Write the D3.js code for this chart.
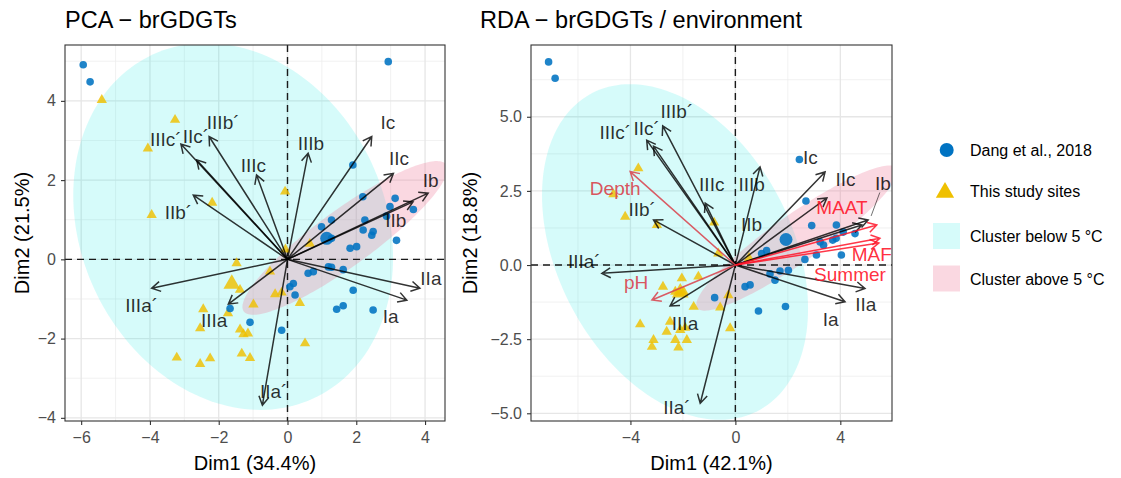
<!DOCTYPE html>
<html>
<head>
<meta charset="utf-8">
<script src="https://cdn.jsdelivr.net/npm/d3@7"></script>
<style>
  body { margin: 0; background: #fff; }
  svg { display: block; font-family: "Liberation Sans", Arial, Helvetica, sans-serif; }
</style>
</head>
<body>
<svg id="chart" width="1121" height="478"></svg>
<script>
// ---------------- PCA (left panel) ----------------
const pcaDang = [
  [-5.94, 4.91], [-5.74, 4.48], [2.93, 4.99], [1.90, 2.38], [2.19, 1.58], [3.13, 1.54],
  [2.98, 1.33], [3.66, 1.26], [2.88, 1.09], [2.25, 0.99], [1.28, 0.99], [0.99, 0.82],
  [1.28, 0.53], [2.20, 0.74], [2.49, 0.70], [2.45, 0.61], [3.17, 0.48], [2.01, 0.32],
  [1.82, 0.28], [1.19, -0.19], [1.28, -0.20], [1.62, -0.26], [0.60, -0.35], [0.75, -0.31],
  [0.17, -0.61], [0.07, -0.69], [0.22, -0.90], [1.91, -0.78], [1.43, -1.26], [1.62, -1.17],
  [2.49, -1.28], [-1.67, -1.24], [-1.09, -1.59], [-0.17, -1.79]
];
const pcaStudy = [
  [-5.40, 4.02], [-3.27, 3.52], [-4.06, 2.80], [-0.07, 1.71], [-2.19, 1.43], [-3.95, 1.12],
  [0.65, 0.39], [-0.06, 0.25], [-1.48, -0.10], [-0.51, -0.31], [-1.38, -0.77], [-0.36, -0.88],
  [-0.17, -0.84], [0.36, -1.10], [-0.99, -1.14], [-2.45, -1.26], [-1.73, -1.36], [-2.54, -1.74],
  [-1.38, -1.77], [-1.28, -1.89], [-1.15, -1.87], [-3.22, -2.48], [-2.54, -2.64], [-2.25, -2.50],
  [-1.33, -2.38], [-1.09, -2.49], [0.51, -2.12]
];
const pcaGroupMeans = { dang: [1.14, 0.53], study: [-1.62, -0.62] };
// loading vectors: tip (x, y) and label position (lx, ly)
const pcaLoadings = [
  { name: "Ic",    x: 2.45,  y: 3.10,  lx: 2.92,  ly: 3.47 },
  { name: "IIc",   x: 3.08,  y: 2.17,  lx: 3.24,  ly: 2.55 },
  { name: "Ib",    x: 4.09,  y: 1.67,  lx: 4.16,  ly: 2.00 },
  { name: "IIb",   x: 3.65,  y: 1.45,  lx: 3.15,  ly: 1.00 },
  { name: "IIIb",  x: 0.60,  y: 2.68,  lx: 0.68,  ly: 2.93 },
  { name: "IIIc",  x: -0.90, y: 2.13,  lx: -0.99, ly: 2.37 },
  { name: "IIIb´", x: -2.28, y: 3.10,  lx: -1.87, ly: 3.45 },
  { name: "IIc´",  x: -2.64, y: 2.51,  lx: -2.66, ly: 3.11 },
  { name: "IIIc´", x: -3.10, y: 2.91,  lx: -3.54, ly: 3.04 },
  { name: "IIb´",  x: -2.74, y: 1.62,  lx: -3.17, ly: 1.18 },
  { name: "IIIa´", x: -3.95, y: -0.73, lx: -4.24, ly: -1.15 },
  { name: "IIIa",  x: -1.72, y: -1.13, lx: -2.13, ly: -1.54 },
  { name: "IIa´",  x: -0.73, y: -3.68, lx: -0.40, ly: -3.33 },
  { name: "IIa",   x: 3.85,  y: -0.73, lx: 4.17,  ly: -0.48 },
  { name: "Ia",    x: 3.47,  y: -1.03, lx: 3.00,  ly: -1.43 }
];
// cluster ellipses: centre, spread along each axis and correlation
const pcaEllipses = [
  { cluster: "below", cx: -1.58, cy: 0.83, sx: 4.65, sy: 4.63, rho: -0.17 },
  { cluster: "above", cx: 1.67,  cy: 0.54, sx: 2.98, sy: 1.94, rho: 0.896 }
];
const pcaXTicks = [-6, -4, -2, 0, 2, 4];
const pcaXMinor = [-5, -3, -1, 1, 3];
const pcaYTicks = [-4, -2, 0, 2, 4];
const pcaYMinor = [-3, -1, 1, 3, 5];

// ---------------- RDA (right panel) ----------------
const rdaDang = [
  [-7.12, 6.85], [-6.87, 6.30], [2.44, 3.56], [2.69, 2.16], [2.91, 1.33], [3.85, 1.35],
  [4.11, 1.11], [4.56, 1.06], [1.00, 0.39], [1.19, 0.49], [3.71, 0.84], [3.84, 0.90],
  [3.23, 0.78], [3.36, 0.67], [3.09, 0.34], [4.04, 0.34], [2.65, 0.19], [1.32, -0.30],
  [1.70, -0.20], [2.02, -0.18], [1.51, -0.51], [0.56, -0.67], [0.37, -0.73], [-0.79, -1.10],
  [0.88, -1.55], [1.91, -1.40]
];
const rdaStudy = [
  [-3.70, 3.26], [-4.65, 2.39], [-4.20, 1.63], [-2.99, 1.35], [-0.81, 1.43], [-0.65, 0.39],
  [0.52, 0.24], [-2.76, -0.73], [-2.04, -0.45], [-1.41, -0.39], [-2.29, -0.90], [-2.12, -0.95],
  [-1.97, -0.90], [-1.59, -1.41], [-3.63, -2.00], [-2.49, -1.91], [-2.62, -2.25], [-2.10, -2.19],
  [-1.91, -2.12], [-2.29, -2.53], [-1.85, -2.53], [-3.12, -2.53], [-3.18, -2.76], [-2.17, -2.78],
  [-0.27, -1.02], [-0.58, -1.43], [-0.20, -2.13]
];
const rdaGroupMeans = { dang: [1.93, 0.86], study: [-2.10, -0.93] };
const rdaLoadings = [
  { name: "IIIb´", x: -2.77, y: 4.69,  lx: -2.23, ly: 5.20 },
  { name: "IIc´",  x: -3.12, y: 4.01,  lx: -3.38, ly: 4.61 },
  { name: "IIIc´", x: -3.38, y: 4.21,  lx: -4.58, ly: 4.47 },
  { name: "IIb´",  x: -3.12, y: 1.52,  lx: -3.55, ly: 1.89 },
  { name: "IIIc",  x: -1.15, y: 2.09,  lx: -0.90, ly: 2.73 },
  { name: "IIIb",  x: 0.94,  y: 3.31,  lx: 0.62,  ly: 2.73 },
  { name: "IIb",   x: 4.82,  y: 1.35,  lx: 0.62,  ly: 1.38 },
  { name: "Ic",    x: 3.42,  y: 3.14,  lx: 2.86,  ly: 3.65 },
  { name: "IIc",   x: 3.49,  y: 2.26,  lx: 4.20,  ly: 2.90 },
  { name: "Ib",    x: 5.06,  y: 1.52,  lx: 5.62,  ly: 2.75 },
  { name: "IIa",   x: 4.94,  y: -0.79, lx: 4.97,  ly: -1.31 },
  { name: "Ia",    x: 4.18,  y: -1.24, lx: 3.63,  ly: -1.82 },
  { name: "IIIa´", x: -5.09, y: -0.28, lx: -5.76, ly: 0.13 },
  { name: "IIIa",  x: -2.49, y: -1.38, lx: -1.92, ly: -1.97 },
  { name: "IIa´",  x: -1.34, y: -4.66, lx: -2.23, ly: -4.78 }
];
const rdaEnvironment = [
  { name: "MAAT",   x: 5.39,  y: 1.35,  lx: 4.06,  ly: 1.94 },
  { name: "MAF",    x: 5.51,  y: 0.90,  lx: 5.20,  ly: 0.38 },
  { name: "Summer", x: 5.47,  y: 0.74,  lx: 4.37,  ly: -0.31 },
  { name: "Depth",  x: -4.01, y: 3.15,  lx: -4.58, ly: 2.60 },
  { name: "pH",     x: -3.18, y: -1.18, lx: -3.78, ly: -0.57 }
];
const rdaLeaderLines = ["Ib"];
const rdaEllipses = [
  { cluster: "below", cx: -2.30, cy: 0.44, sx: 5.07, sy: 5.66, rho: -0.338 },
  { cluster: "above", cx: 2.35,  cy: 0.91, sx: 3.84, sy: 2.45, rho: 0.918 }
];
const rdaXTicks = [-4, 0, 4];
const rdaXMinor = [-6, -2, 2];
const rdaYTicks = [-5, -2.5, 0, 2.5, 5];
const rdaYMinor = [-3.75, -1.25, 1.25, 3.75, 6.25];

// ---------------- legend ----------------
const legendGroups = ["Dang et al., 2018", "This study sites"];
const legendClusters = ["Cluster below 5 °C", "Cluster above 5 °C"];

// ---------------- styles ----------------
const BLUE = "#0073C2";
const GOLD = "#EFC000";
const clusterStyle = {
  below: { fill: "rgb(0,230,222)", opacity: 0.16 },
  above: { fill: "rgb(238,125,155)", opacity: 0.30 }
};
const envColour = { MAAT: "#FF1428", MAF: "#FF1428", Summer: "#FF1428", Depth: "#D9404A", pH: "#D9404A" };
const LABEL_SIZE = 19;

const svg = d3.select("#chart");
const defs = svg.append("defs");

function ellipsePath(e, x, y) {
  const k = Math.sqrt(1 - e.rho * e.rho);
  const pts = d3.range(0, 360, 2).map(a => {
    const t = a * Math.PI / 180;
    const dx = e.sx * Math.cos(t);
    const dy = e.sy * (e.rho * Math.cos(t) + k * Math.sin(t));
    return [x(e.cx + dx), y(e.cy + dy)];
  });
  return d3.line()(pts) + "Z";
}

function arrowPath(x0, y0, x1, y1) {
  const ang = Math.atan2(y1 - y0, x1 - x0);
  const L = 10, A = Math.PI / 6;
  const a1 = [x1 - L * Math.cos(ang - A), y1 - L * Math.sin(ang - A)];
  const a2 = [x1 - L * Math.cos(ang + A), y1 - L * Math.sin(ang + A)];
  return `M${x0},${y0}L${x1},${y1}M${a1[0]},${a1[1]}L${x1},${y1}L${a2[0]},${a2[1]}`;
}

const triangle = size => d3.symbol(d3.symbolTriangle, size)();

function drawPanel(p, idx) {
  const { l, r, t, b } = p.box;
  const x = d3.scaleLinear().domain(p.xDomain).range([l, r]);
  const y = d3.scaleLinear().domain(p.yDomain).range([b, t]);
  const g = svg.append("g");

  defs.append("clipPath").attr("id", "clip" + idx)
    .append("rect").attr("x", l).attr("y", t).attr("width", r - l).attr("height", b - t);
  const plot = g.append("g").attr("clip-path", `url(#clip${idx})`);

  // grid
  plot.selectAll(".vminor").data(p.xMinor).join("line")
    .attr("x1", d => x(d)).attr("x2", d => x(d)).attr("y1", t).attr("y2", b)
    .attr("stroke", "#EBEBEB").attr("stroke-width", 0.7);
  plot.selectAll(".hminor").data(p.yMinor).join("line")
    .attr("y1", d => y(d)).attr("y2", d => y(d)).attr("x1", l).attr("x2", r)
    .attr("stroke", "#EBEBEB").attr("stroke-width", 0.7);
  plot.selectAll(".vmajor").data(p.xTicks).join("line")
    .attr("x1", d => x(d)).attr("x2", d => x(d)).attr("y1", t).attr("y2", b)
    .attr("stroke", "#E6E6E6").attr("stroke-width", 1.3);
  plot.selectAll(".hmajor").data(p.yTicks).join("line")
    .attr("y1", d => y(d)).attr("y2", d => y(d)).attr("x1", l).attr("x2", r)
    .attr("stroke", "#E6E6E6").attr("stroke-width", 1.3);

  // cluster ellipses
  plot.selectAll(".ell").data(p.ellipses).join("path")
    .attr("d", e => ellipsePath(e, x, y))
    .attr("fill", e => clusterStyle[e.cluster].fill)
    .attr("fill-opacity", e => clusterStyle[e.cluster].opacity)
    .attr("stroke", "none");

  // reference lines at zero
  plot.append("line").attr("x1", l).attr("x2", r).attr("y1", y(0)).attr("y2", y(0))
    .attr("stroke", "#1a1a1a").attr("stroke-width", 1.4).attr("stroke-dasharray", "7,5");
  plot.append("line").attr("y1", t).attr("y2", b).attr("x1", x(0)).attr("x2", x(0))
    .attr("stroke", "#1a1a1a").attr("stroke-width", 1.4).attr("stroke-dasharray", "7,5");

  // samples
  plot.selectAll(".study").data(p.study).join("path")
    .attr("d", triangle(46))
    .attr("transform", d => `translate(${x(d[0])},${y(d[1])})`)
    .attr("fill", GOLD).attr("fill-opacity", 0.82);
  plot.append("path").attr("d", triangle(120))
    .attr("transform", `translate(${x(p.means.study[0])},${y(p.means.study[1])})`)
    .attr("fill", GOLD).attr("fill-opacity", 0.82);
  plot.selectAll(".dang").data(p.dang).join("circle")
    .attr("cx", d => x(d[0])).attr("cy", d => y(d[1])).attr("r", 3.8)
    .attr("fill", BLUE).attr("fill-opacity", 0.88);
  plot.append("circle")
    .attr("cx", x(p.means.dang[0])).attr("cy", y(p.means.dang[1])).attr("r", 6.5)
    .attr("fill", BLUE).attr("fill-opacity", 0.88);

  // loading arrows
  plot.selectAll(".load").data(p.loadings).join("path")
    .attr("d", d => arrowPath(x(0), y(0), x(d.x), y(d.y)))
    .attr("fill", "none").attr("stroke", "#000").attr("stroke-opacity", 0.8)
    .attr("stroke-width", 1.5).attr("stroke-linejoin", "miter");
  plot.selectAll(".env").data(p.env).join("path")
    .attr("d", d => arrowPath(x(0), y(0), x(d.x), y(d.y)))
    .attr("fill", "none").attr("stroke", d => envColour[d.name]).attr("stroke-opacity", 0.85)
    .attr("stroke-width", 1.5);

  // leader lines for displaced labels
  const leaders = p.loadings.filter(d => p.leaders.includes(d.name));
  plot.selectAll(".leader").data(leaders).join("line")
    .attr("x1", d => x(d.lx) - 3).attr("y1", d => y(d.ly) + 9)
    .attr("x2", d => x(d.x) + 3).attr("y2", d => y(d.y) - 4)
    .attr("stroke", "#000").attr("stroke-opacity", 0.7).attr("stroke-width", 0.8);

  // labels (kept outside the clip so names near the border stay whole)
  const labels = g.append("g");
  labels.selectAll(".loadLab").data(p.loadings).join("text")
    .attr("x", d => x(d.lx)).attr("y", d => y(d.ly) + 6.8)
    .attr("text-anchor", "middle").attr("font-size", LABEL_SIZE)
    .attr("fill", "#000").attr("fill-opacity", 0.82)
    .text(d => d.name);
  labels.selectAll(".envLab").data(p.env).join("text")
    .attr("x", d => x(d.lx)).attr("y", d => y(d.ly) + 6.8)
    .attr("text-anchor", "middle").attr("font-size", LABEL_SIZE)
    .attr("fill", d => envColour[d.name]).attr("fill-opacity", 0.9)
    .text(d => d.name);

  // border
  g.append("rect").attr("x", l).attr("y", t).attr("width", r - l).attr("height", b - t)
    .attr("fill", "none").attr("stroke", "#333333").attr("stroke-width", 1.1);

  // axes
  const xAxis = d3.axisBottom(x).tickValues(p.xTicks).tickSize(4).tickPadding(7)
    .tickFormat(d3.format(p.xFormat));
  const yAxis = d3.axisLeft(y).tickValues(p.yTicks).tickSize(4).tickPadding(5)
    .tickFormat(d3.format(p.yFormat));
  const ax = g.append("g").attr("transform", `translate(0,${b})`).call(xAxis);
  const ay = g.append("g").attr("transform", `translate(${l},0)`).call(yAxis);
  [ax, ay].forEach(a => {
    a.select(".domain").remove();
    a.selectAll(".tick line").attr("stroke", "#333333").attr("stroke-width", 1.1);
    a.selectAll(".tick text").attr("fill", "#4D4D4D").attr("font-size", 16)
      .attr("font-family", '"Liberation Sans", Arial, sans-serif');
  });

  // titles
  g.append("text").attr("x", p.titleX).attr("y", 28).attr("font-size", 23.5).attr("fill", "#000")
    .text(p.title);
  g.append("text").attr("x", (l + r) / 2).attr("y", 470).attr("text-anchor", "middle")
    .attr("font-size", 20).attr("fill", "#000").text(p.xTitle);
  g.append("text").attr("transform", `translate(${p.yTitleX},${(t + b) / 2}) rotate(-90)`)
    .attr("text-anchor", "middle").attr("font-size", 20).attr("fill", "#000").text(p.yTitle);
}

const panels = [
  {
    title: "PCA − brGDGTs", xTitle: "Dim1 (34.4%)", yTitle: "Dim2 (21.5%)",
    box: { l: 65, r: 445, t: 45, b: 421 }, titleX: 65, yTitleX: 29,
    xDomain: [-6.47, 4.58], yDomain: [-4.08, 5.41],
    xTicks: pcaXTicks, xMinor: pcaXMinor, yTicks: pcaYTicks, yMinor: pcaYMinor,
    xFormat: "d", yFormat: "d",
    dang: pcaDang, study: pcaStudy, means: pcaGroupMeans,
    loadings: pcaLoadings, env: [], leaders: [], ellipses: pcaEllipses
  },
  {
    title: "RDA − brGDGTs / environment", xTitle: "Dim1 (42.1%)", yTitle: "Dim2 (18.8%)",
    box: { l: 531, r: 892, t: 45, b: 421 }, titleX: 480, yTitleX: 477,
    xDomain: [-7.79, 5.97], yDomain: [-5.26, 7.42],
    xTicks: rdaXTicks, xMinor: rdaXMinor, yTicks: rdaYTicks, yMinor: rdaYMinor,
    xFormat: "d", yFormat: ".1f",
    dang: rdaDang, study: rdaStudy, means: rdaGroupMeans,
    loadings: rdaLoadings, env: rdaEnvironment, leaders: rdaLeaderLines, ellipses: rdaEllipses
  }
];
panels.forEach(drawPanel);

// legend
const lg = svg.append("g");
const legRows = [150, 191.5, 236.5, 279];
lg.append("circle").attr("cx", 946.7).attr("cy", legRows[0]).attr("r", 7).attr("fill", BLUE);
lg.append("path").attr("d", triangle(145)).attr("transform", `translate(945,${legRows[1] + 1})`)
  .attr("fill", GOLD);
legendClusters.forEach((c, i) => {
  const key = i === 0 ? "below" : "above";
  lg.append("rect").attr("x", 933).attr("y", legRows[2 + i] - 13.5).attr("width", 27).attr("height", 26)
    .attr("fill", clusterStyle[key].fill).attr("fill-opacity", clusterStyle[key].opacity);
});
[...legendGroups, ...legendClusters].forEach((txt, i) => {
  lg.append("text").attr("x", 970).attr("y", legRows[i] + 5.7).attr("font-size", 16)
    .attr("fill", "#000").text(txt);
});
</script>
</body>
</html>
